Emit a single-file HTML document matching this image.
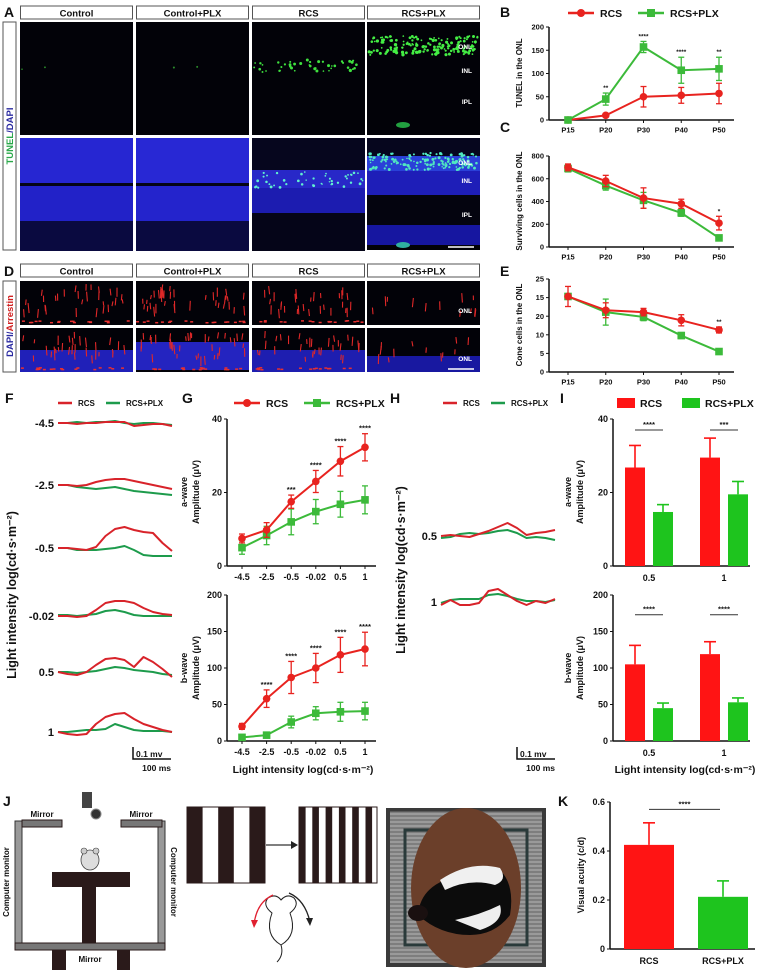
<!DOCTYPE html>
<html><head><meta charset="utf-8">
<style>
html,body{margin:0;padding:0;background:#fff;}
svg{display:block;font-family:"Liberation Sans",Arial,sans-serif;}
text{font-weight:bold;}
</style></head>
<body>
<svg id="fig" width="761" height="973" viewBox="0 0 761 973" xmlns="http://www.w3.org/2000/svg">
<rect x="0" y="0" width="761" height="973" fill="#fff"/>
</svg>
<script>
// ---------- DATA ----------
const bCats = ["P15","P20","P30","P40","P50"];
const bRcs = [0,10,50,53,57];
const bRcsErr = [0,3,22,17,22];
const bPlx = [0,45,157,107,110];
const bPlxErr = [0,13,12,28,25];
const bStars = ["","**","****","****","**"];
const bTicks = [0,50,100,150,200];
const bTickLabels = ["0","50","100","150","200"];

const cRcs = [700,580,430,380,210];
const cRcsErr = [30,50,90,40,60];
const cPlx = [690,540,410,300,80];
const cPlxErr = [30,40,70,30,12];
const cStars = ["","","","","*"];
const cTicks = [0,200,400,600,800];
const cTickLabels = ["0","200","400","600","800"];

const eRcs = [20.3,16.6,16.1,13.9,11.3];
const eRcsErr = [2.7,2,1,1.5,0.8];
const ePlx = [20.3,16.1,14.8,9.8,5.5];
const ePlxErr = [0,3.5,1,0.8,0.5];
const eStars = ["","","","","**"];
const eTicks = [0,5,10,15,20,25];
const eTickLabels = ["0","5","10","20","15","25"];

const gCats = ["-4.5","-2.5","-0.5","-0.02","0.5","1"];
const gaRcs = [7.5,9.8,17.5,23,28.5,32.3];
const gaRcsErr = [1.2,2,1.8,3,4,3.7];
const gaPlx = [5,8.3,12,14.8,16.8,18];
const gaPlxErr = [1.8,2.5,3.5,3.3,3.5,3.8];
const gaStars = ["","","***","****","****","****"];
const gaTicks = [0,20,40];
const gaTickLabels = ["0","20","40"];
const gbRcs = [20,58,87,100,118,126];
const gbRcsErr = [4,12,22,20,24,23];
const gbPlx = [5,8,26,38,40,41];
const gbPlxErr = [2,3,8,9,13,12];
const gbStars = ["","****","****","****","****","****"];
const gbTicks = [0,50,100,150,200];
const gbTickLabels = ["0","50","100","150","200"];

const iCats = ["0.5","1"];
const iaRcs = [26.8,29.5];
const iaRcsErr = [6,5.3];
const iaPlx = [14.7,19.5];
const iaPlxErr = [2,3.5];
const iaStars = ["****","***"];
const ibRcs = [105,119];
const ibRcsErr = [26,17];
const ibPlx = [45,53];
const ibPlxErr = [7,6];
const ibStars = ["****","****"];

const kCats = ["RCS","RCS+PLX"];
const kVals = [0.425,0.213];
const kErrs = [0.09,0.065];
const kTicks = [0,0.2,0.4,0.6];
const kTickLabels = ["0","0.2","0.4","0.6"];

const fLevels = ["-4.5","-2.5","-0.5","-0.02","0.5","1"];
const fRed = [
 [0,0,-1,0,0,1,1,1,-3,-2,-1,-1,-3],
 [0,0,-1,0,3,5,6,6,4,2,0,-2,-4],
 [0,0,-1,-2,1,12,19,21,18,16,15,5,-3],
 [0,0,-1,0,6,13,15,15,13,8,4,2,1],
 [0,-2,-3,0,7,13,14,12,5,15,10,3,-5],
 [0,-2,-3,-2,8,15,18,19,13,8,5,2,0]];
const fGreen = [
 [0,0,1,0,1,1,2,0,-1,0,0,-1,-2],
 [0,0,-2,-3,-4,-3,-2,-4,-6,-7,-8,-9,-10],
 [0,0,-2,-2,-2,-1,0,2,-2,-7,-8,-8,-8],
 [1,1,0,1,2,5,6,4,1,0,0,0,0],
 [0,0,-1,0,1,3,5,4,2,1,0,-2,-3],
 [0,0,1,2,2,3,8,5,2,1,1,1,0]];
const hLevels = ["0.5","1"];
const hRed = [
 [0,1,0,-1,2,5,9,13,8,1,3,4,6],
 [-3,2,-3,-3,-1,11,13,7,1,-3,1,-1,3]];
const hGreen = [
 [-2,-1,2,3,2,3,5,6,3,-2,-1,-2,-4],
 [-1,2,3,3,3,7,8,6,3,1,1,0,2]];

// ---------- HELPERS ----------
const NS="http://www.w3.org/2000/svg";
const svg=document.getElementById('fig');
const RED="#e8231f", GREEN="#3cba3a", BRED="#ff1414", BGREEN="#1ec41e", TRED="#d8232a", TGREEN="#1d9b4c";
function mk(tag,attrs,parent){const e=document.createElementNS(NS,tag);for(const k in attrs)e.setAttribute(k,attrs[k]);(parent||svg).appendChild(e);return e;}
function tx(x,y,s,size,anchor,parent,fill){const e=mk('text',{x:x,y:y,'font-size':size,'text-anchor':anchor||'start',fill:fill||'#111'},parent);e.textContent=s;return e;}
function grp(){return mk('g',{});}

// panel letters
[["A",4,17],["B",500,17],["C",500,132],["D",4,276],["E",500,276],["F",5,403],["G",182,403],["H",390,403],["I",560,403],["J",3,806],["K",558,806]].forEach(p=>{
 const t=tx(p[1],p[2],p[0],14,'start');
 
 
});

// legend
function lineLegend(x,y,name){
 const g=grp();
 
 
 mk('line',{x1:x,y1:y,x2:x+26,y2:y,stroke:RED,'stroke-width':2.5},g);
 mk('circle',{cx:x+13,cy:y,r:4,fill:RED},g);
 tx(x+32,y+4,"RCS",10.5,'start',g);
 mk('line',{x1:x+70,y1:y,x2:x+96,y2:y,stroke:GREEN,'stroke-width':2.5},g);
 mk('rect',{x:x+79,y:y-4,width:8,height:8,fill:GREEN},g);
 tx(x+102,y+4,"RCS+PLX",10.5,'start',g);
}
lineLegend(568,13,'legend-bce');
lineLegend(234,403,'legend-g');

// ---------- LINE CHART ----------
function lineChart(c){
 const g=grp();
 
 
 const ys=v=>c.yb-(v/c.ymax)*(c.yb-c.yt);
 const n=c.cats.length;
 const xs=i=>c.fx+i*(c.lx-c.fx)/(n-1);
 mk('line',{x1:c.xl,y1:c.yt,x2:c.xl,y2:c.yb,stroke:'#111','stroke-width':1.5},g);
 mk('line',{x1:c.xl,y1:c.yb,x2:c.xr,y2:c.yb,stroke:'#111','stroke-width':1.5},g);
 c.ticks.forEach((t,i)=>{
  mk('line',{x1:c.xl-3,y1:ys(t),x2:c.xl,y2:ys(t),stroke:'#111','stroke-width':1},g);
  const l=tx(c.xl-5,ys(t)+c.fs*0.35,c.tickLabels[i],c.fs,'end',g);
  
  
 });
 c.cats.forEach((s,i)=>{
  mk('line',{x1:xs(i),y1:c.yb,x2:xs(i),y2:c.yb+3,stroke:'#111','stroke-width':1},g);
  const l=tx(xs(i),c.yb+c.fs+5,s,c.fs,'middle',g);
  
  
 });
 c.series.forEach(sr=>{
  const pts=sr.vals.map((v,i)=>xs(i)+','+ys(v)).join(' ');
  const pl=mk('polyline',{points:pts,fill:'none',stroke:sr.color,'stroke-width':2},g);
  
  
  sr.vals.forEach((v,i)=>{
   const e=sr.errs[i];
   if(e>0){
    mk('line',{x1:xs(i),y1:ys(v+e),x2:xs(i),y2:ys(v-e),stroke:sr.color,'stroke-width':1.3},g);
    mk('line',{x1:xs(i)-3,y1:ys(v+e),x2:xs(i)+3,y2:ys(v+e),stroke:sr.color,'stroke-width':1.3},g);
    mk('line',{x1:xs(i)-3,y1:ys(v-e),x2:xs(i)+3,y2:ys(v-e),stroke:sr.color,'stroke-width':1.3},g);
   }
   let m;
   if(sr.marker==='c') m=mk('circle',{cx:xs(i),cy:ys(v),r:3.8,fill:sr.color},g);
   else m=mk('rect',{x:xs(i)-3.8,y:ys(v)-3.8,width:7.6,height:7.6,fill:sr.color},g);
   
   
  });
 });
 c.stars.forEach((s,i)=>{
  if(!s)return;
  let top=Math.max(...c.series.map(sr=>sr.vals[i]+sr.errs[i]));
  const st=tx(xs(i),ys(top)-3,s,c.fs*0.85,'middle',g);
  
  
 });
 (c.titles||[]).forEach(t=>{
  const e=tx(t[0],t[1],t[2],t[3],'middle',g);
  e.setAttribute('transform','rotate(-90 '+t[0]+' '+t[1]+')');
  
  
 });
 if(c.xtitle){const e=tx(c.xtitle[0],c.xtitle[1],c.xtitle[2],10.5,'middle',g);
  }
}
const bceCommon={xl:549,xr:734,fx:568,lx:719,cats:bCats,fs:7.5};
lineChart(Object.assign({name:'chart-b-tunel',yb:120,yt:27,ymax:200,ticks:bTicks,tickLabels:bTickLabels,stars:bStars,
 series:[{name:'rcs',vals:bRcs,errs:bRcsErr,color:RED,marker:'c'},{name:'rcs-plx',vals:bPlx,errs:bPlxErr,color:GREEN,marker:'s'}],
 titles:[[522,73,"TUNEL in the ONL",8]]},bceCommon));
lineChart(Object.assign({name:'chart-c-surviving',yb:247,yt:156,ymax:800,ticks:cTicks,tickLabels:cTickLabels,stars:cStars,
 series:[{name:'rcs-plx',vals:cPlx,errs:cPlxErr,color:GREEN,marker:'s'},{name:'rcs',vals:cRcs,errs:cRcsErr,color:RED,marker:'c'}],
 titles:[[522,201,"Surviving cells in the ONL",8]]},bceCommon));
lineChart(Object.assign({name:'chart-e-cone',yb:372,yt:279,ymax:25,ticks:eTicks,tickLabels:eTickLabels,stars:eStars,
 series:[{name:'rcs-plx',vals:ePlx,errs:ePlxErr,color:GREEN,marker:'s'},{name:'rcs',vals:eRcs,errs:eRcsErr,color:RED,marker:'c'}],
 titles:[[522,325,"Cone cells in the ONL",8]]},bceCommon));
const gCommon={xl:227,xr:376,fx:242,lx:365,cats:gCats,fs:9};
lineChart(Object.assign({name:'chart-g-awave',yb:566,yt:419,ymax:40,ticks:gaTicks,tickLabels:gaTickLabels,stars:gaStars,
 series:[{name:'rcs-plx',vals:gaPlx,errs:gaPlxErr,color:GREEN,marker:'s'},{name:'rcs',vals:gaRcs,errs:gaRcsErr,color:RED,marker:'c'}],
 titles:[[187,492,"a-wave",9],[199,492,"Amplitude (μV)",9]]},gCommon));
lineChart(Object.assign({name:'chart-g-bwave',yb:741,yt:595,ymax:200,ticks:gbTicks,tickLabels:gbTickLabels,stars:gbStars,
 series:[{name:'rcs-plx',vals:gbPlx,errs:gbPlxErr,color:GREEN,marker:'s'},{name:'rcs',vals:gbRcs,errs:gbRcsErr,color:RED,marker:'c'}],
 titles:[[187,668,"b-wave",9],[199,668,"Amplitude (μV)",9]],xtitle:[303,773,"Light intensity log(cd·s·m⁻²)"]},gCommon));

// ---------- BAR CHART ----------
function barChart(c){
 const g=grp();
 
 
 const ys=v=>c.yb-(v/c.ymax)*(c.yb-c.yt);
 mk('line',{x1:c.xl,y1:c.yt,x2:c.xl,y2:c.yb,stroke:'#111','stroke-width':1.5},g);
 mk('line',{x1:c.xl,y1:c.yb,x2:c.xr,y2:c.yb,stroke:'#111','stroke-width':1.5},g);
 c.ticks.forEach((t,i)=>{
  mk('line',{x1:c.xl-3,y1:ys(t),x2:c.xl,y2:ys(t),stroke:'#111','stroke-width':1},g);
  const l=tx(c.xl-5,ys(t)+c.fs*0.35,c.tickLabels[i],c.fs,'end',g);
  
  
 });
 c.bars.forEach(b=>{
  const r=mk('rect',{x:b.x-c.bw/2,y:ys(b.v),width:c.bw,height:c.yb-ys(b.v),fill:b.color},g);
  
  
  mk('line',{x1:b.x,y1:ys(b.v),x2:b.x,y2:ys(b.v+b.e),stroke:b.color,'stroke-width':1.6},g);
  mk('line',{x1:b.x-6,y1:ys(b.v+b.e),x2:b.x+6,y2:ys(b.v+b.e),stroke:b.color,'stroke-width':1.6},g);
 });
 c.labels.forEach(l=>{const e=tx(l[0],c.yb+c.fs+6,l[1],c.fs,'middle',g);
  });
 c.sig.forEach(s=>{
  mk('line',{x1:s[0],y1:ys(s[2]),x2:s[1],y2:ys(s[2]),stroke:'#333','stroke-width':1},g);
  const e=tx((s[0]+s[1])/2,ys(s[2])-3,s[3],c.fs*0.85,'middle',g);
  
 });
 (c.titles||[]).forEach(t=>{
  const e=tx(t[0],t[1],t[2],t[3],'middle',g);
  e.setAttribute('transform','rotate(-90 '+t[0]+' '+t[1]+')');
  
  
 });
 if(c.xtitle){const e=tx(c.xtitle[0],c.xtitle[1],c.xtitle[2],10.5,'middle',g);
  }
}
const iX=[635,710], iOff=28;
barChart({name:'chart-i-awave',xl:613,xr:750,yb:566,yt:419,ymax:40,ticks:gaTicks,tickLabels:gaTickLabels,fs:9,bw:20,
 bars:iCats.flatMap((c,i)=>[{name:'bar-rcs-'+c,x:iX[i],v:iaRcs[i],e:iaRcsErr[i],color:BRED},{name:'bar-rcs-plx-'+c,x:iX[i]+iOff,v:iaPlx[i],e:iaPlxErr[i],color:BGREEN}]),
 labels:iCats.map((c,i)=>[iX[i]+iOff/2,c]),
 sig:iaStars.map((s,i)=>[iX[i]+iOff/2-14,iX[i]+iOff/2+14,37,s]),
 titles:[[571,492,"a-wave",9],[583,492,"Amplitude (μV)",9]]});
barChart({name:'chart-i-bwave',xl:613,xr:750,yb:741,yt:595,ymax:200,ticks:gbTicks,tickLabels:gbTickLabels,fs:9,bw:20,
 bars:iCats.flatMap((c,i)=>[{name:'bar-rcs-'+c,x:iX[i],v:ibRcs[i],e:ibRcsErr[i],color:BRED},{name:'bar-rcs-plx-'+c,x:iX[i]+iOff,v:ibPlx[i],e:ibPlxErr[i],color:BGREEN}]),
 labels:iCats.map((c,i)=>[iX[i]+iOff/2,c]),
 sig:ibStars.map((s,i)=>[iX[i]+iOff/2-14,iX[i]+iOff/2+14,173,s]),
 titles:[[571,668,"b-wave",9],[583,668,"Amplitude (μV)",9]],xtitle:[685,773,"Light intensity log(cd·s·m⁻²)"]});
const kX=[649,723];
barChart({name:'chart-k-acuity',xl:610,xr:755,yb:949,yt:802,ymax:0.6,ticks:kTicks,tickLabels:kTickLabels,fs:9,bw:50,
 bars:kCats.map((c,i)=>({name:'bar-'+c.toLowerCase().replace('+','-'),x:kX[i],v:kVals[i],e:kErrs[i],color:i?BGREEN:BRED})),
 labels:kCats.map((c,i)=>[kX[i],c]),
 sig:[[649,720,0.57,"****"]],
 titles:[[584,875,"Visual acuity (c/d)",9]]});

// I legend
(function(){const g=grp();
 
 
 mk('rect',{x:617,y:398,width:18,height:10,fill:BRED},g);tx(640,407,"RCS",10.5,'start',g);
 mk('rect',{x:682,y:398,width:18,height:10,fill:BGREEN},g);tx(705,407,"RCS+PLX",10.5,'start',g);})();

// ---------- ERG TRACES ----------
function traces(name,x0,x1,baselines,labels,reds,greens,labelX,legendX,titleX,titleY,sbX,sbY){
 const g=grp();
 
 
 const n=reds[0].length;
 const xs=i=>x0+i*(x1-x0)/(n-1);
 baselines.forEach((b,k)=>{
  const lb=tx(labelX,b+4,labels[k],11,'end',g);
  
  
  [[greens[k],TGREEN],[reds[k],TRED]].forEach(p=>{
   const pl=mk('polyline',{points:p[0].map((d,i)=>xs(i)+','+(b-d)).join(' '),fill:'none',stroke:p[1],'stroke-width':2,'stroke-linejoin':'round'},g);
   
   
  });
 });
 mk('line',{x1:legendX,y1:403,x2:legendX+14,y2:403,stroke:TRED,'stroke-width':2.5},g);
 tx(legendX+20,406,"RCS",8,'start',g);
 mk('line',{x1:legendX+48,y1:403,x2:legendX+62,y2:403,stroke:TGREEN,'stroke-width':2.5},g);
 tx(legendX+68,406,"RCS+PLX",8,'start',g);
 const t=tx(titleX,titleY,"Light intensity log(cd·s·m⁻²)",12.5,'middle',g);
 t.setAttribute('transform','rotate(-90 '+titleX+' '+titleY+')');
 
 
 const sb=grp();
 
 
 mk('polyline',{points:sbX+','+(sbY-12)+' '+sbX+','+sbY+' '+(sbX+38)+','+sbY,fill:'none',stroke:'#111','stroke-width':1.5},sb);
 tx(sbX+3,sbY-2,"0.1 mv",8.5,'start',sb);
 tx(sbX+38,sbY+12,"100 ms",8.5,'end',sb);
}
traces('panel-f-traces',58,172,[423,485,548,616,672,732],fLevels,fRed,fGreen,54,58,16,595,133,759);
traces('panel-h-traces',441,555,[536,602],hLevels,hRed,hGreen,437,443,405,570,517,759);

// ---------- MICROSCOPY PANELS ----------
let seed=7;function rnd(){seed=(seed*16807)%2147483647;return seed/2147483647;}
const colX=[20,136,252,367], colW=113;
const heads=["Control","Control+PLX","RCS","RCS+PLX"];
function header(y,prefix){
 heads.forEach((h,i)=>{const g=grp();
  
  
  mk('rect',{x:colX[i]+0.5,y:y,width:colW-1,height:13,fill:'#fff',stroke:'#555','stroke-width':1},g);
  tx(colX[i]+colW/2,y+10.5,h,9.5,'middle',g);});
}
header(6,'a');header(264,'d');
mk('rect',{x:3,y:22,width:13,height:228,fill:'#fff',stroke:'#555'});
(function(){const t=mk('text',{x:13,y:136,'font-size':9.5,'text-anchor':'middle',transform:'rotate(-90 13 136)'});
 
 const a=mk('tspan',{fill:'#2aa84a'},t);a.textContent="TUNEL";const b=mk('tspan',{fill:'#2a2aa0'},t);b.textContent="/DAPI";})();
mk('rect',{x:3,y:281,width:13,height:91,fill:'#fff',stroke:'#555'});
(function(){const t=mk('text',{x:13,y:326,'font-size':9.5,'text-anchor':'middle',transform:'rotate(-90 13 326)'});
 
 const a=mk('tspan',{fill:'#2a2aa0'},t);a.textContent="DAPI/";const b=mk('tspan',{fill:'#d02020'},t);b.textContent="Arrestin";})();

function cell(i,y,h,bands,name){
 const g=grp();
 
 
 mk('rect',{x:colX[i],y:y,width:colW,height:h,fill:'#020208'},g);
 bands.forEach(b=>mk('rect',{x:colX[i],y:y+b[0],width:colW,height:b[1],fill:b[2],opacity:b[3]||1},g));
 return g;
}
function dots(g,i,y0,y1,n,color,r){for(let k=0;k<n;k++){mk('circle',{cx:colX[i]+2+rnd()*(colW-4),cy:y0+rnd()*(y1-y0),r:r*(0.6+rnd()*0.6),fill:color},g);}}
for(let i=0;i<4;i++){const g=cell(i,22,113,[],'tunel-image-'+heads[i].toLowerCase().replace('+','-'));
 if(i===2)dots(g,2,60,72,45,'#3ee03e',1.3);
 if(i===3){dots(g,3,36,55,160,'#44ee44',1.4);mk('ellipse',{cx:403,cy:125,rx:7,ry:3,fill:'#22a040'},g);}
 if(i<2)dots(g,i,60,70,2,'#2a8a2a',1);}
const a2=[
 [[0,45,'#2626d2'],[45,3,'#050515'],[48,35,'#2222c8'],[83,30,'#0a0a40']],
 [[0,45,'#2828d4'],[45,3,'#050515'],[48,35,'#2424cc'],[83,30,'#0a0a40']],
 [[0,32,'#06061e'],[32,18,'#2828c8'],[50,25,'#1c1cb0'],[75,38,'#050518']],
 [[0,18,'#06061e'],[18,15,'#2a40d8'],[33,24,'#1e1eb8'],[57,30,'#04040f'],[87,20,'#1616a0']]];
for(let i=0;i<4;i++){const g=cell(i,138,112,a2[i],'tunel-dapi-image-'+heads[i].toLowerCase().replace('+','-'));
 if(i===2)dots(g,2,172,188,45,'#60f0d0',1.2);
 if(i===3){dots(g,3,153,170,150,'#50e8c0',1.3);mk('ellipse',{cx:403,cy:245,rx:7,ry:3,fill:'#30b0a0'},g);}}
const d2=[[[22,22,'#2020b8']],[[14,28,'#2424c0']],[[22,22,'#1e1eb0']],[[28,16,'#1818a0']]];
for(let r=0;r<2;r++){for(let i=0;i<4;i++){
 const y=r?328:281;
 const g=cell(i,y,44,r?d2[i]:[],(r?'dapi-arrestin-image-':'arrestin-image-')+heads[i].toLowerCase().replace('+','-'));
 const nd=i===3?12:(i===1?38:30);
 for(let k=0;k<nd;k++){const x=colX[i]+3+rnd()*(colW-6),yy=y+3+rnd()*(i===3?30:26);
  mk('line',{x1:x,y1:yy,x2:x+rnd()*2-1,y2:yy+4+rnd()*6,stroke:'#e02828','stroke-width':1.1},g);}
 if(i<3)for(let k=0;k<18;k++)mk('rect',{x:colX[i]+rnd()*(colW-4),y:y+39+rnd()*2,width:3,height:1.5,fill:'#e83030'},g);
}}
[[472,49,"ONL"],[472,73,"INL"],[472,104,"IPL"],[472,165,"ONL"],[472,183,"INL"],[472,217,"IPL"],[472,313,"ONL"],[472,361,"ONL"]].forEach(l=>{
 const t=tx(l[0],l[1],l[2],6.5,'end',null,'#fff');});
mk('line',{x1:448,y1:247,x2:474,y2:247,stroke:'#fff','stroke-width':1.5});
mk('line',{x1:448,y1:369,x2:474,y2:369,stroke:'#fff','stroke-width':1.5});

// ---------- PANEL J ----------
(function(){
 const g=grp();
 
 
 const D='#2a1a1a', G='#999';
 mk('rect',{x:15,y:821,width:7,height:122,fill:G,stroke:'#333','stroke-width':1},g);
 mk('rect',{x:158,y:821,width:7,height:122,fill:G,stroke:'#333','stroke-width':1},g);
 mk('rect',{x:22,y:820,width:40,height:7,fill:'#777',stroke:D},g);
 mk('rect',{x:121,y:820,width:41,height:7,fill:'#777',stroke:D},g);
 mk('rect',{x:15,y:943,width:150,height:7,fill:'#777',stroke:D},g);
 mk('rect',{x:52,y:872,width:78,height:15,fill:D},g);
 mk('rect',{x:82,y:887,width:14,height:56,fill:D},g);
 mk('rect',{x:52,y:950,width:14,height:20,fill:D},g);
 mk('rect',{x:117,y:950,width:13,height:20,fill:D},g);
 tx(42,817,"Mirror",8,'middle',g);tx(141,817,"Mirror",8,'middle',g);tx(90,962,"Mirror",8,'middle',g);
 const l=tx(9,882,"Computer monitor",8,'middle',g);l.setAttribute('transform','rotate(-90 9 882)');
 const r=tx(171,882,"Computer monitor",8,'middle',g);r.setAttribute('transform','rotate(90 171 882)');
 mk('rect',{x:82,y:792,width:10,height:16,fill:'#444'},g);
 mk('circle',{cx:96,cy:814,r:5,fill:'#333',stroke:'#888'},g);
 mk('ellipse',{cx:90,cy:860,rx:9,ry:10,fill:'#ddd',stroke:'#444','stroke-width':0.8},g);
 mk('circle',{cx:84,cy:851,r:3,fill:'#ccc',stroke:'#444','stroke-width':0.6},g);
 mk('circle',{cx:96,cy:851,r:3,fill:'#ccc',stroke:'#444','stroke-width':0.6},g);
 const g1=mk('g',{},g);
 mk('rect',{x:187,y:807,width:78,height:76,fill:'#fff',stroke:D,'stroke-width':1},g1);
 for(let k=0;k<3;k++)mk('rect',{x:187+k*31.2,y:807,width:15.6,height:76,fill:D},g1);
 mk('line',{x1:266,y1:845,x2:293,y2:845,stroke:'#333','stroke-width':1.2},g);
 mk('path',{d:'M291,841 L298,845 L291,849 Z',fill:'#222'},g);
 const g2=mk('g',{},g);
 mk('rect',{x:299,y:807,width:78,height:76,fill:'#fff',stroke:D,'stroke-width':1},g2);
 for(let k=0;k<6;k++)mk('rect',{x:299+k*13.3,y:807,width:6.6,height:76,fill:D},g2);
 mk('path',{d:'M272,913 Q262,905 268,898 Q276,893 281,900 Q287,893 294,898 Q300,905 290,913 Q298,935 281,945 Q264,935 272,913 Z',fill:'#fff',stroke:'#222','stroke-width':1},g);
 mk('path',{d:'M281,945 Q284,955 277,962',fill:'none',stroke:'#222','stroke-width':1},g);
 mk('path',{d:'M273,895 Q257,902 254,924',fill:'none',stroke:'#e02030','stroke-width':1.3},g);
 mk('path',{d:'M251,920 L254,928 L258,920 Z',fill:'#e02030'},g);
 mk('path',{d:'M289,893 Q305,900 310,922',fill:'none',stroke:'#222','stroke-width':1.3},g);
 mk('path',{d:'M306,918 L310,926 L313,918 Z',fill:'#222'},g);
 const p=mk('g',{},g);
 mk('rect',{x:386,y:808,width:160,height:159,fill:'#3a3a3a'},p);
 mk('rect',{x:390,y:812,width:152,height:151,fill:'#9a9a9a'},p);
 for(let k=0;k<38;k++)mk('line',{x1:390,y1:812+k*4,x2:542,y2:812+k*4,stroke:'#6d6d6d','stroke-width':1.2},p);
 mk('rect',{x:405,y:830,width:122,height:115,fill:'none',stroke:'#2a3a3a','stroke-width':3},p);
 mk('ellipse',{cx:466,cy:888,rx:55,ry:80,fill:'#6b3f2a'},p);
 mk('path',{d:'M418,915 Q420,890 445,880 Q480,865 500,870 Q515,885 510,915 Q495,935 470,935 Q440,935 418,915 Z',fill:'#0c0c0c'},p);
 mk('path',{d:'M440,880 Q470,860 500,868 Q508,880 495,885 Q470,878 445,890 Z',fill:'#f0f0f0'},p);
 mk('path',{d:'M455,920 Q480,915 500,905 Q505,922 480,930 Z',fill:'#eee'},p);
 mk('ellipse',{cx:418,cy:913,rx:10,ry:8,fill:'#1a1010'},p);
})();
</script>
</body></html>
